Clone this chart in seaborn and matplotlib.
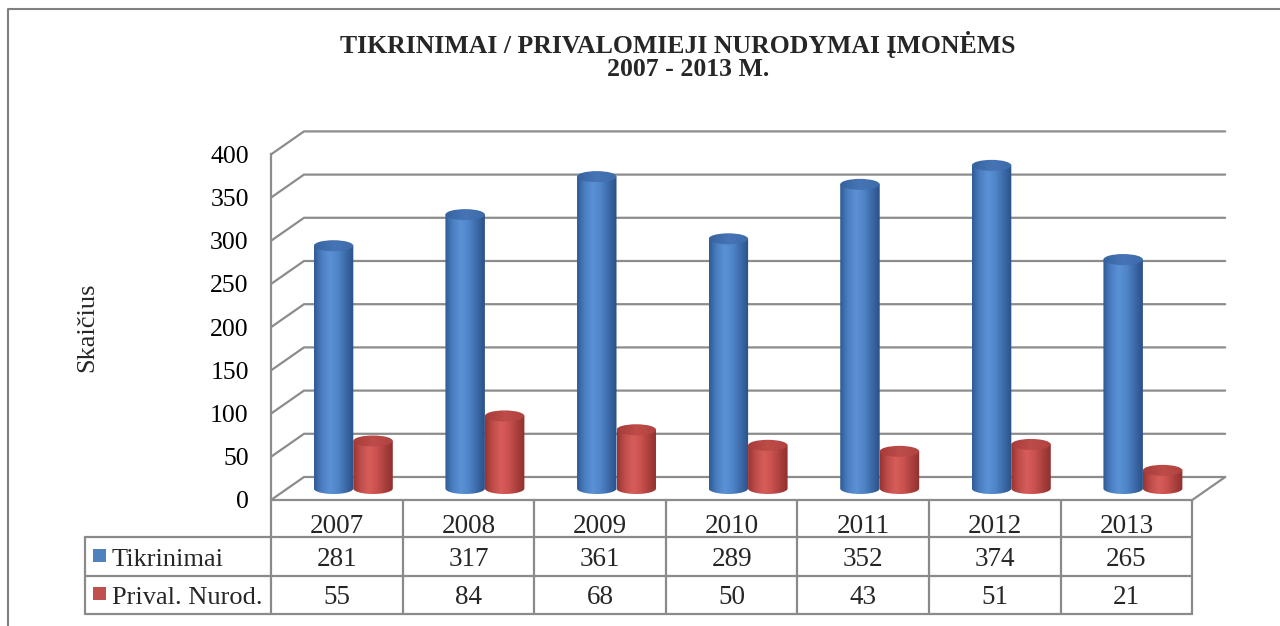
import numpy as np
import pandas as pd
import seaborn as sns
import matplotlib.pyplot as plt
from matplotlib.patches import Ellipse, PathPatch, Rectangle
from matplotlib.path import Path
from matplotlib.colors import LinearSegmentedColormap

# data
years = ["2007", "2008", "2009", "2010", "2011", "2012", "2013"]
tikrinimai = [281, 317, 361, 289, 352, 374, 265]
nurodymai = [55, 84, 68, 50, 43, 51, 21]
series_names = ["Tikrinimai", "Prival. Nurod."]
y_ticks = [0, 50, 100, 150, 200, 250, 300, 350, 400]
title_lines = ["TIKRINIMAI / PRIVALOMIEJI NURODYMAI ĮMONĖMS", "2007 - 2013 M."]
y_label = "Skaičius"

df = pd.DataFrame({
    "year": years * 2,
    "value": tikrinimai + nurodymai,
    "series": [series_names[0]] * len(years) + [series_names[1]] * len(years),
})

sns.set_theme(style="white")
plt.rcParams["font.family"] = ["Liberation Serif", "DejaVu Serif"]

# pixel layout of the picture
W, H = 1280, 626
X0, CW = 271, 131.6          # front-left corner, width of one category column
Y0, VH = 500, 0.864          # pixel of value 0 on the front, px per unit
DXP, DYP = 33, 23            # depth offset of the back wall
CAP_PX = 11                  # height of cylinder caps
AX_L, AX_R, AX_T, AX_B = X0, 1245, 105, 505

DX, DY = DXP / CW, DYP / VH
MID = 0.5
grid_col = "#8c8c8c"
blue, red = "#4f81bd", "#c0504d"

fig = plt.figure(figsize=(W / 100, H / 100), dpi=100)
over = fig.add_axes([0, 0, 1, 1])
over.set_xlim(0, W)
over.set_ylim(H, 0)
over.axis("off")

ax = fig.add_axes([AX_L / W, (H - AX_B) / H, (AX_R - AX_L) / W, (AX_B - AX_T) / H])
ax.patch.set_alpha(0)

sns.barplot(data=df, x="year", y="value", hue="series", palette=[blue, red],
            width=0.6, errorbar=None, legend=False, ax=ax)

body_cmaps = [
    LinearSegmentedColormap.from_list("b", ["#2f5b94", "#4c7fc3", "#5b91d5", "#4f84c8", "#3c6aa8", "#2a5187"]),
    LinearSegmentedColormap.from_list("r", ["#983431", "#c04e4b", "#d75d5a", "#c9514e", "#ab403d", "#8e2f2d"]),
]
cap_cmaps = [
    LinearSegmentedColormap.from_list("bc", ["#36639f", "#4774b5", "#3e6baa"]),
    LinearSegmentedColormap.from_list("rc", ["#a63c3a", "#be4c49", "#b04240"]),
]
grad = np.linspace(0, 1, 256).reshape(1, -1)
t = np.linspace(np.pi, 2 * np.pi, 40)
eh = CAP_PX / VH

patches = list(ax.patches)
n = len(years)
for i, p in enumerate(patches):
    s = i // n
    w = p.get_width()
    x0 = p.get_x() + MID * DX
    xc = x0 + w / 2
    base = MID * DY
    top = base + p.get_height()
    p.set_visible(False)
    z = 4 + x0

    verts = [(x0, top), (x0, base)]
    verts += list(zip(xc + w / 2 * np.cos(t), base + eh / 2 * np.sin(t)))
    verts += [(x0 + w, top), (x0, top)]
    codes = [Path.MOVETO] + [Path.LINETO] * (len(verts) - 2) + [Path.CLOSEPOLY]
    body = PathPatch(Path(verts, codes), facecolor="none", edgecolor="none", zorder=z)
    ax.add_patch(body)
    im = ax.imshow(grad, cmap=body_cmaps[s], extent=[x0, x0 + w, base - eh, top],
                   aspect="auto", zorder=z, interpolation="bilinear")
    im.set_clip_path(body)

    cap = Ellipse((xc, top), w, eh, facecolor="none", edgecolor="none", zorder=z + 0.01)
    ax.add_patch(cap)
    im2 = ax.imshow(grad, cmap=cap_cmaps[s], extent=[x0, x0 + w, top - eh, top + eh],
                    aspect="auto", zorder=z + 0.01, interpolation="bilinear")
    im2.set_clip_path(cap)

# back wall gridlines and floor
x_left, x_right = -0.5, len(years) - 0.5
for v in y_ticks:
    ax.plot([x_left, x_left + DX, x_right + DX], [v, v + DY, v + DY],
            color=grid_col, lw=1.6, zorder=1, solid_joinstyle="miter")
ax.plot([x_left, x_right, x_right + DX], [0, 0, DY], color=grid_col, lw=1.6, zorder=2)

ax.set_xlim(x_left, x_left + (AX_R - AX_L) / CW)
ax.set_ylim(-(AX_B - Y0) / VH, (Y0 - AX_T) / VH)
ax.set_xticks([])
ax.set_xlabel("")
ax.set_ylabel("")
ax.set_yticks(y_ticks)
ax.set_yticklabels([str(v) for v in y_ticks], fontsize=18.5)
ax.tick_params(axis="y", length=0, pad=16, colors="black")
for side in ["top", "right", "bottom"]:
    ax.spines[side].set_visible(False)
ax.spines["left"].set_bounds(0, 400)
ax.spines["left"].set_color(grid_col)
ax.spines["left"].set_linewidth(1.6)

# data table under the chart
tab_col = "#8a8a8a"
lab_left = 85
rows = [500, 537, 576, 614]
right = X0 + len(years) * CW
for k in range(len(years) + 1):
    over.plot([X0 + k * CW] * 2, [rows[0], rows[3]], color=tab_col, lw=1.6)
over.plot([lab_left, lab_left], [rows[1], rows[3]], color=tab_col, lw=1.6)
for r in rows[1:]:
    over.plot([lab_left, right], [r, r], color=tab_col, lw=1.6)

baselines = [533, 566, 604]
for k, yr in enumerate(years):
    cx = X0 + (k + 0.5) * CW
    over.text(cx, baselines[0], yr, ha="center", va="baseline", fontsize=19.5)
    over.text(cx, baselines[1], str(tikrinimai[k]), ha="center", va="baseline", fontsize=19.5)
    over.text(cx, baselines[2], str(nurodymai[k]), ha="center", va="baseline", fontsize=19.5)

for j, (name, col) in enumerate(zip(series_names, [blue, red])):
    over.add_patch(Rectangle((93, baselines[j + 1] - 17), 13, 13, facecolor=col, edgecolor="none"))
    over.text(112, baselines[j + 1], name, ha="left", va="baseline", fontsize=19)

# titles and frame
over.text(678, 44, title_lines[0], ha="center", va="center", fontsize=18.5, fontweight="bold")
over.text(688, 70, title_lines[1], ha="center", va="center", fontsize=18.5, fontweight="bold")
over.text(87, 327, y_label, ha="center", va="center", rotation=90, fontsize=19)
over.plot([8, 8, W], [H, 9, 9], color="#808080", lw=1.5)

fig.savefig("out.png", dpi=100)
